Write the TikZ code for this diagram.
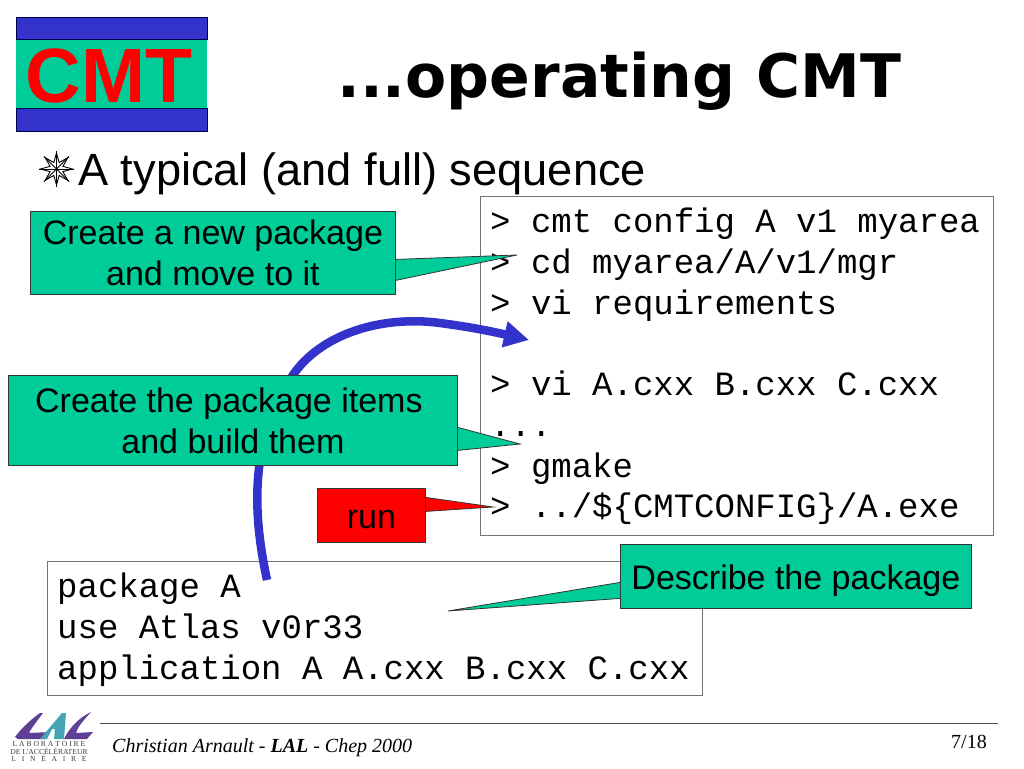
\documentclass[tikz,border=0pt]{standalone}
\usepackage{fontspec}
\usepackage{xcolor}
\setmainfont{Liberation Sans}
\setmonofont{Liberation Mono}
\newfontfamily\titlefont{DejaVu Sans}
\newfontfamily\footfont{Liberation Serif}
\usetikzlibrary{positioning,arrows.meta,shapes.geometric}
\definecolor{notegreen}{HTML}{00CC99}
\definecolor{bandblue}{HTML}{3333CC}
\definecolor{lalpurple}{HTML}{5F3F96}
\definecolor{lalteal}{HTML}{45A5B5}
\tikzset{
	notebox/.style={draw=black!80, fill=notegreen, line width=0.8pt, anchor=north west, inner sep=0pt, align=center, font=\fontsize{34}{41}\selectfont},
	codebox/.style={draw=black!55, fill=white, line width=1pt, anchor=north west, inner sep=0pt},
	codetext/.style={anchor=north west, inner sep=0pt, align=left, font=\ttfamily\fontsize{34}{40.7}\selectfont},
	band/.style={draw=black!70!blue, fill=bandblue, anchor=north west, inner sep=0pt, minimum width=191pt, minimum height=22pt},
}
% pointer of a note box: colour, anchor, upper and lower base shift, tip
\newcommand{\notepointer}[5][notegreen]{
	\fill[#1] ([yshift=#3]#2) -- (#5) -- ([yshift=#4]#2) -- cycle;
	\draw[black!80, line width=0.8pt] ([yshift=#3]#2) -- (#5) -- ([yshift=#4]#2);
}
\begin{document}
\begin{tikzpicture}[x=1pt, y=-1pt]
	\useasboundingbox (0,0) rectangle (1024,768);
	\fill[white] (0,0) rectangle (1024,768);

	% logo top left
	\node[draw=none, fill=notegreen, anchor=north west, inner sep=0pt, minimum width=191pt, minimum height=114pt] (logo) at (15.5,17) {};
	\node[band] (bandtop) at (15.5,17) {};
	\node[band, minimum height=23pt] (bandbottom) at (15.5,108) {};
	\node[text=red, font=\bfseries\fontsize{77}{77}\selectfont, inner sep=0pt] (logotext) at (109,76) {CMT};

	% title
	\node[font=\titlefont\bfseries\fontsize{60}{60}\selectfont, anchor=base west, inner sep=0pt] (title) at (337,97) {...operating CMT};
	\node[star, star points=8, star point ratio=2.3, draw, fill=white, line width=0.9pt, minimum size=32pt, inner sep=0pt] (bullet) at (56.5,169) {};
	\foreach \i in {1,...,8}
		\draw[line width=0.9pt] (bullet.center) -- (bullet.outer point \i);
	\node[font=\fontsize{45.2}{46}\selectfont, anchor=base west, inner sep=0pt] (subtitle) at (78,185) {A typical (and full) sequence};

	% command window
	\node[codebox, minimum width=513pt, minimum height=339pt] (cmdbox) at (480,196) {};
	\node[codetext] (cmdtext) at (490,208) {> cmt config A v1 myarea\\> cd myarea/A/v1/mgr\\> vi requirements\\\mbox{}\\> vi A.cxx B.cxx C.cxx\\...\\> gmake\\> ../\$\{CMTCONFIG\}/A.exe};

	% requirements window
	\node[codebox, minimum width=655pt, minimum height=134pt] (reqbox) at (47,561) {};
	\node[codetext] (reqtext) at (57,573) {package A\\use Atlas v0r33\\application A A.cxx B.cxx C.cxx};

	% blue arrow, goes under the second note
	\coordinate (reqstart) at (267,580);
	\coordinate (reqend) at (529,340);
	\draw[bandblue, line width=8.5pt, -{Triangle[length=25pt,width=25pt]}] (reqstart) .. controls (252,510) and (250,440) .. (293,375) .. controls (320,335) and (380,315) .. (440,323) .. controls (470,327) and (490,331) .. (reqend);

	% notes
	\node[notebox, minimum width=365pt, minimum height=83pt] (newpkg) at (30,211) {Create a new package\\and move to it};
	\coordinate (newtip) at (517,255);
	\notepointer{newpkg.east}{-6.5}{-27.5}{newtip}

	\node[notebox, minimum width=449pt, minimum height=90pt] (items) at (8,375) {Create the package items\hspace*{8pt}\\and build them};
	\coordinate (itemstip) at (520,444);
	\notepointer{items.east}{-7}{-30}{itemstip}

	\node[notebox, fill=red, minimum width=108pt, minimum height=54pt] (run) at (317,488) {\raisebox{-4pt}[\height][\depth]{run}};
	\coordinate (runtip) at (493,507);
	\notepointer[red]{run.east}{18}{4}{runtip}

	\node[notebox, minimum width=351pt, minimum height=64pt] (descr) at (620,544) {\raisebox{-4pt}[\height][\depth]{Describe the package}};
	\coordinate (descrtip) at (448,611);
	\notepointer{descr.west}{-6}{-22}{descrtip}

	% footer
	\draw[black!70, line width=1pt] (100,723) -- (998,723);
	\node[font=\footfont\itshape\fontsize{20}{20}\selectfont, anchor=base west, inner sep=0pt] (author) at (112,752) {Christian Arnault - \textbf{LAL} - Chep 2000};
	\node[font=\footfont\fontsize{20}{20}\selectfont, anchor=base, inner sep=0pt] (page) at (969,748) {7/18};

	% laboratory logo
	\fill[lalpurple] (15,737) .. controls (20,730) and (30,720) .. (40,713) -- (43,713) .. controls (38,720) and (32,727) .. (29,733) -- (50,732) -- (45,739) -- (18,739) -- cycle;
	\fill[lalteal] (40,739) -- (62,713) -- (66,713) -- (64,739) -- (54,739) -- (55,729) -- (52,729) -- (47,739) -- cycle;
	\fill[lalpurple] (64,739) .. controls (68,730) and (78,718) .. (91,712) .. controls (84,720) and (78,726) .. (76,733) -- (93,732) -- (87,739) -- cycle;
	\node[font=\footfont\fontsize{7.6}{7.5}\selectfont, align=center, inner sep=0pt, text=black!75] (lalname) at (49,751.5) {L A B O R A T O I R E\\DE L'ACCÉLÉRATEUR\\L~~~I~~~N~~~É~~~A~~~I~~~R~~~E};
\end{tikzpicture}
\end{document}
